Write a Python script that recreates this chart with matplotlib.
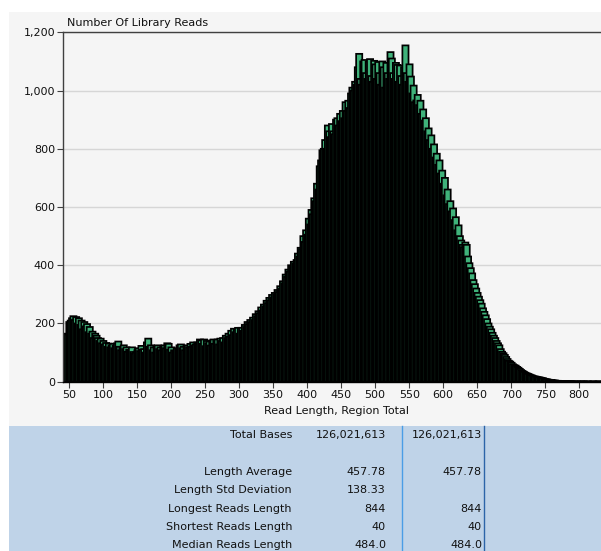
import matplotlib
matplotlib.use("Agg")
import matplotlib.pyplot as plt
from matplotlib.patches import Rectangle
from matplotlib.ticker import FuncFormatter

# ---- data: read counts per read length (2 bp steps, 40..844) ----
length_start = 40
length_step = 2
read_counts = [
    160, 165, 162, 205, 210, 218, 225, 212, 222, 200,
    218, 195, 210, 180, 205, 190, 198, 170, 188, 165,
    172, 150, 165, 158, 150, 140, 148, 132, 140, 128,
    133, 120, 131, 118, 125, 130, 115, 124, 132, 138,
    120, 108, 118, 125, 112, 118, 103, 110, 108, 118,
    102, 96, 100, 108, 115, 105, 123, 110, 112, 100,
    135, 148, 120, 125, 108, 118, 100, 122, 125, 112,
    118, 108, 120, 125, 115, 132, 130, 110, 118, 100,
    108, 103, 115, 110, 125, 128, 115, 120, 108, 122,
    125, 118, 130, 120, 135, 125, 128, 135, 130, 145,
    142, 130, 145, 122, 140, 132, 138, 124, 142, 145,
    130, 140, 145, 128, 148, 140, 150, 135, 158, 150,
    165, 155, 175, 160, 182, 170, 180, 185, 165, 185,
    185, 175, 195, 188, 205, 198, 212, 205, 220, 212,
    232, 225, 242, 235, 255, 245, 265, 258, 278, 270,
    288, 280, 298, 290, 305, 300, 315, 308, 328, 320,
    345, 338, 368, 360, 385, 378, 400, 395, 412, 405,
    418, 440, 430, 460, 455, 500, 480, 520, 505, 560,
    540, 590, 575, 630, 620, 680, 660, 740, 760, 795,
    800, 830, 800, 880, 860, 840, 885, 860, 850, 900,
    905, 880, 920, 895, 930, 905, 960, 930, 965, 940,
    990, 1010, 1000, 1030, 1020, 1080, 1126, 1040, 1020, 1100,
    1105, 1060, 1040, 1100, 1108, 1050, 1030, 1102, 1090, 1040,
    1098, 1060, 1020, 1100, 1080, 1010, 1095, 1060, 1040, 1132,
    1110, 1060, 1040, 1095, 1088, 1030, 1086, 1050, 1020, 1080,
    1155, 1060, 1030, 1090, 1048, 990, 1017, 960, 966, 985,
    950, 965, 920, 935, 897, 905, 860, 870, 830, 846,
    800, 815, 770, 783, 745, 760, 715, 725, 680, 700,
    640, 660, 610, 620, 585, 595, 555, 565, 520, 537,
    500, 485, 470, 462, 478, 470, 430, 407, 390, 372,
    349, 335, 320, 305, 292, 280, 268, 252, 240, 228,
    215, 200, 189, 180, 168, 158, 150, 140, 132, 125,
    112, 103, 98, 92, 85, 78, 72, 69, 65, 60,
    57, 55, 51, 48, 44, 40, 37, 34, 31, 29,
    27, 25, 23, 21, 19, 18, 17, 16, 15, 14,
    13, 12, 10, 9, 8, 7, 6, 6, 5, 4,
    4, 3, 3, 2, 2, 2, 1, 1, 1, 1,
    1, 1, 1, 0, 1, 0, 1, 0, 0, 1,
    0, 1, 0, 0, 1, 0, 0, 0, 1, 0,
    0, 0, 1, 0, 0, 0, 0, 1, 0, 0,
    0, 0, 1,
]
read_lengths = [length_start + length_step * i for i in range(len(read_counts))]

y_ticks = [0, 200, 400, 600, 800, 1000, 1200]
x_ticks = [50, 100, 150, 200, 250, 300, 350, 400, 450, 500, 550, 600, 650, 700, 750, 800]

stat_labels = ["Total Bases", "Length Average", "Length Std Deviation",
               "Longest Reads Length", "Shortest Reads Length", "Median Reads Length"]
stat_col1 = ["126,021,613", "457.78", "138.33", "844", "40", "484.0"]
stat_col2 = ["126,021,613", "457.78", "", "844", "40", "484.0"]

# ---- figure ----
W, H = 601, 551
fig = plt.figure(figsize=(W / 100, H / 100), dpi=100)
fig.patch.set_facecolor("white")

def fx(px):
    return px / W

def fy(py):
    return 1 - py / H

# light gray panel and blue stats panel
fig.add_artist(Rectangle((fx(9), fy(426)), fx(W) - fx(9), fy(12) - fy(426),
                         transform=fig.transFigure, facecolor="#f5f5f5",
                         edgecolor="none", zorder=0))
fig.add_artist(Rectangle((fx(9), 0), 1 - fx(9), fy(426),
                         transform=fig.transFigure, facecolor="#bfd3e8",
                         edgecolor="none", zorder=0))
fig.add_artist(plt.Line2D([fx(401.5), fx(401.5)], [0, fy(426)],
                          transform=fig.transFigure, color="#4a9de6", lw=1.0))
fig.add_artist(plt.Line2D([fx(484.5), fx(484.5)], [0, fy(426)],
                          transform=fig.transFigure, color="#2c64a8", lw=1.0))

ax_left, ax_right, ax_top, ax_bottom = 63.3, 601, 32.3, 381.7
ax = fig.add_axes([fx(ax_left), fy(ax_bottom), fx(ax_right) - fx(ax_left),
                   fy(ax_top) - fy(ax_bottom)])
ax.set_facecolor("#f5f5f5")

bars = ax.bar(read_lengths, read_counts, width=9, align="edge",
              color="#3fb27a", edgecolor="black", linewidth=1.25, zorder=2)
for p in bars.patches:
    p.set_snap(False)

k = 0.6804  # px per bp
x0 = 50 - (69 - ax_left) / k
ax.set_xlim(x0, x0 + (ax_right - ax_left) / k)
ax.set_ylim(0, 1200)

ax.set_yticks(y_ticks)
ax.set_xticks(x_ticks)
ax.yaxis.set_major_formatter(FuncFormatter(lambda v, p: f"{int(v):,}"))
ax.grid(axis="y", color="#d6d6d6", lw=1.0, zorder=0)
ax.set_axisbelow(True)
ax.tick_params(axis="both", direction="out", length=4, width=0.8,
               color="#404040", labelsize=8, labelcolor="#111111", pad=2)

for s in ["top", "left"]:
    ax.spines[s].set_color("#404040")
    ax.spines[s].set_linewidth(1.0)
ax.spines["bottom"].set_color("black")
ax.spines["bottom"].set_linewidth(1.0)
ax.spines["right"].set_visible(False)

fig.text(fx(67), fy(22.5), "Number Of Library Reads", ha="left", va="center",
         fontsize=8, color="#111111")
fig.text(fx(337), fy(411), "Read Length, Region Total", ha="center",
         va="center", fontsize=8, color="#111111")

row_y = [435, 472, 490, 509, 527, 545]
for yy, lab, c1, c2 in zip(row_y, stat_labels, stat_col1, stat_col2):
    fig.text(fx(292), fy(yy), lab, ha="right", va="center", fontsize=8, color="#111111")
    fig.text(fx(386), fy(yy), c1, ha="right", va="center", fontsize=8, color="#111111")
    if c2:
        fig.text(fx(482), fy(yy), c2, ha="right", va="center", fontsize=8, color="#111111")

fig.savefig("out.png", dpi=100)
